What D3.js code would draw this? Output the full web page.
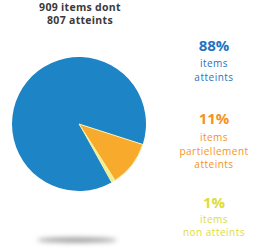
<!DOCTYPE html>
<html>
<head>
<meta charset="utf-8">
<script src="https://cdn.jsdelivr.net/npm/d3@7"></script>
<style>
  body { margin: 0; background: #fff; }
  svg { display: block; font-family: "Open Sans", "DejaVu Sans", sans-serif; }
</style>
</head>
<body>
<div id="chart"></div>
<script>
// data
var categories = ["items atteints", "items partiellement atteints", "items non atteints"];
var percents = [88, 11, 1];
var pctLabels = ["88%", "11%", "1%"];
var labelLines = [["items", "atteints"], ["items", "partiellement", "atteints"], ["items", "non atteints"]];
var titleLines = ["909 items dont", "807 atteints"];

var sliceColors = ["#1d84c6", "#f8aa2c", "#f1ee92"];
var textColors = ["#1f73c2", "#f6921e", "#dcdc3a"];

var width = 259, height = 248;
var svg = d3.select("#chart").append("svg")
  .attr("width", width).attr("height", height);

// shadow under the pie
var defs = svg.append("defs");
defs.append("filter").attr("id", "blur")
  .attr("x", "-50%").attr("y", "-300%").attr("width", "200%").attr("height", "700%")
  .append("feGaussianBlur").attr("stdDeviation", 2.5);
svg.append("ellipse")
  .attr("cx", 77).attr("cy", 240).attr("rx", 40).attr("ry", 2.5)
  .attr("fill", "#9a9a9a").attr("filter", "url(#blur)");

// pie
var start = 151 * Math.PI / 180;
var pie = d3.pie().sort(null).startAngle(start).endAngle(start + 2 * Math.PI);
var arc = d3.arc().innerRadius(0).outerRadius(67);

var g = svg.append("g").attr("transform", "translate(79,124)");
g.selectAll("path")
  .data(pie(percents))
  .join("path")
  .attr("d", arc)
  .attr("fill", function(d, i) { return sliceColors[i]; })
  .attr("stroke", function(d, i) { return i == 1 ? "#fbf1b8" : "none"; })
  .attr("stroke-width", 1);

// title
svg.append("text")
  .attr("text-anchor", "middle")
  .attr("font-weight", "bold").attr("font-size", 10.5).attr("fill", "#3a3a3a")
  .attr("letter-spacing", 0.3)
  .selectAll("tspan").data(titleLines).join("tspan")
  .attr("x", 80).attr("y", function(d, i) { return 11 + i * 12.5; })
  .text(function(d) { return d; });

// legend labels
var pctY = [51, 124, 208];
var lineY = [[67, 81], [141, 154.5, 168], [223, 236]];
var cx = 214;

categories.forEach(function(c, i) {
  svg.append("text")
    .attr("x", cx).attr("y", pctY[i])
    .attr("text-anchor", "middle")
    .attr("font-weight", "bold").attr("font-size", 15)
    .attr("fill", textColors[i])
    .text(pctLabels[i]);
  svg.append("text")
    .attr("text-anchor", "middle")
    .attr("font-size", 10).attr("letter-spacing", 0.5)
    .attr("fill", textColors[i])
    .selectAll("tspan").data(labelLines[i]).join("tspan")
    .attr("x", cx).attr("y", function(d, j) { return lineY[i][j]; })
    .text(function(d) { return d; });
});
</script>
</body>
</html>
